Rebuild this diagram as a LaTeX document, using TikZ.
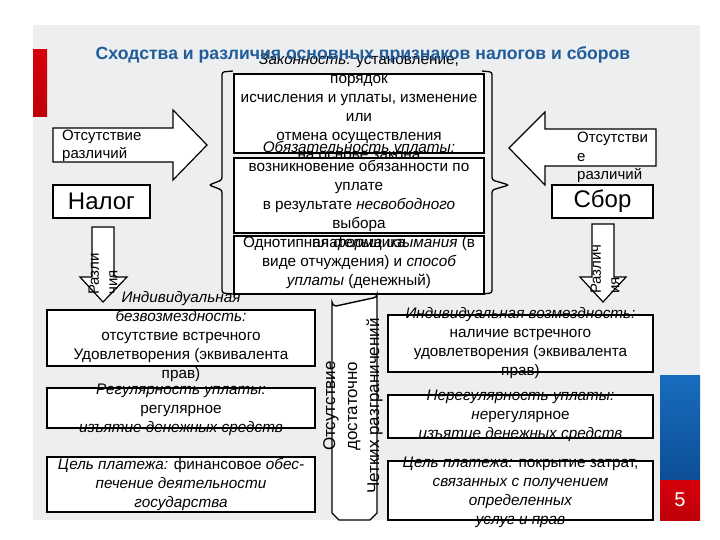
\documentclass[tikz,border=0pt]{standalone}
\usepackage{fontspec}
\setmainfont{Liberation Sans}
\definecolor{panelgray}{RGB}{237,238,240}
\definecolor{titleblue}{RGB}{31,92,153}
\definecolor{barred}{RGB}{214,0,10}
\definecolor{barreddark}{RGB}{190,0,10}
\definecolor{barblue}{RGB}{24,108,190}
\definecolor{barbluedark}{RGB}{12,78,150}
\begin{document}
\begin{tikzpicture}[x=1pt,y=-1pt,
  box/.style={draw=black, line width=1.4pt, fill=white, inner sep=0pt},
  arrowshape/.style={draw=black, line width=1.2pt, fill=white, line join=miter},
  bracestyle/.style={draw=black, line width=1.3pt, rounded corners=2.5pt},
  txt/.style={align=center, inner sep=0pt, font=\fontsize{15.3}{19}\selectfont},
  arrtxt/.style={align=left, inner sep=0pt, font=\fontsize{15}{18.5}\selectfont},
  bigtxt/.style={font=\fontsize{24}{28}\selectfont}
]
\useasboundingbox (0,0) rectangle (720,540);
\fill[white] (0,0) rectangle (720,540);
\fill[panelgray] (33,25) rectangle (700,520);
% side bars
\shade[top color=barred, bottom color=barreddark] (33,50) rectangle (47,117);
\shade[top color=barblue, bottom color=barbluedark] (660,375) rectangle (700,480);
\shade[top color=barred, bottom color=barreddark] (660,480) rectangle (700,520);
\node[text=white, font=\fontsize{20}{24}\selectfont] (pnum) at (680,500) {5};

% braces
\draw[bracestyle] (233,71) -- (222,72) -- (222,180) -- (209,185) -- (222,190) -- (222,293) -- (233,294);
\draw[bracestyle] (482,71) -- (492,72) -- (492,180) -- (509,185) -- (492,190) -- (492,293) -- (482,294);

% central boxes
\node[box, minimum width=250, minimum height=79] (b1) at (359,113.5) {};
\node[box, minimum width=250, minimum height=75] (b2) at (359,195.5) {};
\node[box, minimum width=250, minimum height=58] (b3) at (359,265) {};

% horizontal block arrows
\draw[arrowshape] (53,128) -- (173,128) -- (173,110) -- (207,145) -- (173,180) -- (173,162) -- (53,162) -- cycle;
\draw[arrowshape] (656,129) -- (545,129) -- (545,112) -- (509,148) -- (545,185) -- (545,166) -- (656,166) -- cycle;

% tax / fee
\node[box, minimum width=97, minimum height=33, bigtxt] (nalog) at (101.5,201.5) {Налог};
\node[box, minimum width=101, minimum height=33, bigtxt] (sbor) at (602.5,201.5) {Сбор};

% down arrows
\draw[arrowshape] (92,227) -- (114,227) -- (114,277) -- (127,277) -- (103,302) -- (80,277) -- (92,277) -- cycle;
\draw[arrowshape] (592,224) -- (614,224) -- (614,277) -- (626,277) -- (603,302) -- (580,277) -- (592,277) -- cycle;

% bottom left boxes
\node[box, minimum width=268, minimum height=56] (l1) at (181,338) {};
\node[box, minimum width=268, minimum height=40] (l2) at (181,408) {};
\node[box, minimum width=268, minimum height=55] (l3) at (181,484.5) {};
% bottom right boxes
\node[box, minimum width=265, minimum height=57] (r1) at (520.5,343.5) {};
\node[box, minimum width=265, minimum height=43] (r2) at (520.5,416.5) {};
\node[box, minimum width=265, minimum height=59] (r3) at (520.5,490.5) {};

% central vertical box
\draw[draw=black, line width=1.4pt, fill=white]
  (332,302) arc[start angle=180, end angle=90, radius=4] -- (373,298)
  arc[start angle=90, end angle=0, radius=4] -- (377,513) -- (370,520) -- (339,520) -- (332,513) -- cycle;
\coordinate (vbox) at (354.5,409);

% ---- texts ----
\node[txt] (t1) at (359,107) {{\itshape Законность:} установление,\\ порядок\\ исчисления и уплаты, изменение\\ или\\ отмена осуществления\\ на основе закона};
\node[txt] (t2) at (b2.center) {{\itshape Обязательность уплаты:}\\ возникновение обязанности по\\ уплате\\ в результате {\itshape несвободного}\\ выбора\\ плательщика};
\node[txt] (t3) at (359,263) {Однотипная {\itshape форма изымания} (в\\ виде отчуждения) и {\itshape способ}\\ {\itshape уплаты} (денежный)};

\node[arrtxt, anchor=west] (at1) at (62,146) {Отсутствие\\ различий};
\node[arrtxt, anchor=west] (at2) at (577,157.5) {Отсутстви\\ е\\ различий};
\node[arrtxt, rotate=90, anchor=west] (at3) at (103,295) {Разли\\ чия};
\node[arrtxt, rotate=90, anchor=west] (at4) at (605,294) {Различ\\ ия};

\node[txt] (tl1) at (181,337) {{\itshape Индивидуальная}\\ {\itshape безвозмездность:}\\ отсутствие встречного\\ Удовлетворения (эквивалента\\ прав)};
\node[txt] (tl2) at (181,410) {{\itshape Регулярность уплаты:}\\ регулярное\\ {\itshape изъятие денежных средств}};
\node[txt] (tl3) at (181,484) {{\itshape Цель платежа:} финансовое {\itshape обес-}\\ {\itshape печение деятельности}\\ {\itshape государства}};

\node[txt] (tr1) at (520.5,343.5) {{\itshape Индивидуальная возмездность:}\\ наличие встречного\\ удовлетворения (эквивалента\\ прав)};
\node[txt] (tr2) at (520.5,416) {{\itshape Нерегулярность уплаты:}\\ {\itshape не}регулярное\\ {\itshape изъятие денежных средств}};
\node[txt] (tr3) at (520.5,492) {{\itshape Цель платежа:} покрытие затрат,\\ {\itshape связанных с получением}\\ {\itshape определенных}\\ {\itshape услуг и прав}};

\node[align=center, inner sep=0pt, rotate=90, font=\fontsize{17}{22}\selectfont] (vt) at (353,406) {Отсутствие\\ достаточно\\ Четких разграничений};

% title
\node[text=titleblue, font=\bfseries\fontsize{17.6}{20}\selectfont] (title) at (363,55) {Сходства и различия основных признаков налогов и сборов};
\end{tikzpicture}
\end{document}
